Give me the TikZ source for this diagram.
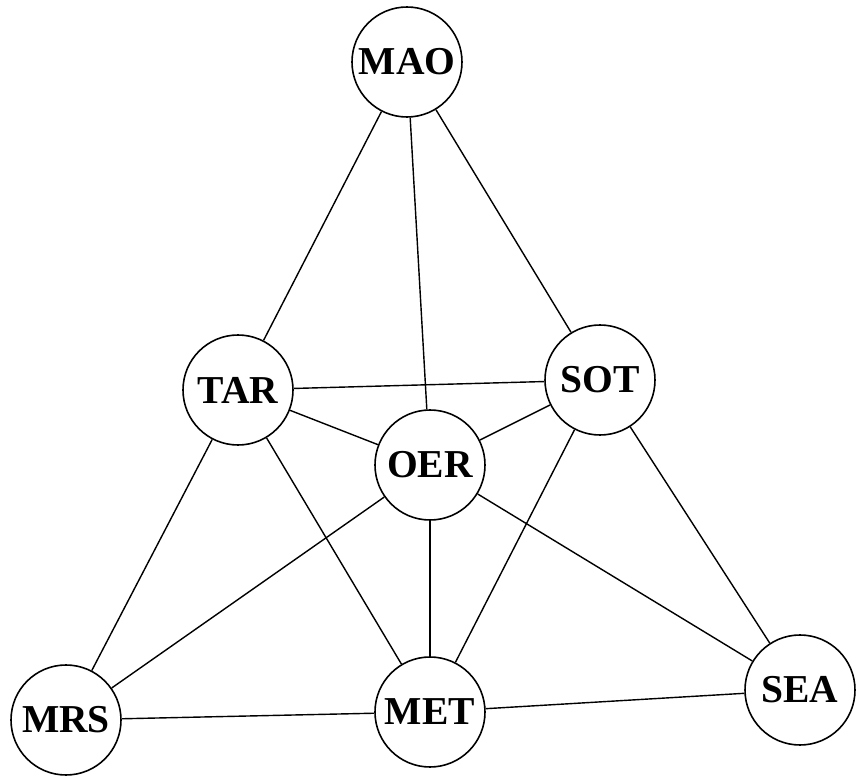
\documentclass[tikz,border=0pt]{standalone}
\usepackage{fontspec}
\setmainfont{Liberation Serif}
\begin{document}
\begin{tikzpicture}[
    station/.style={circle, draw, line width=0.9pt, minimum size=2.2cm, inner sep=0pt,
        font=\fontsize{22.5}{26}\selectfont\bfseries},
    link/.style={line width=0.8pt}]

\useasboundingbox (0, 0) rectangle (17.14, 15.52);

\node[station] (mao) at (8.14, 14.28) {MAO};
\node[station] (tar) at (4.76, 7.72) {TAR};
\node[station] (sot) at (12.0, 7.92) {SOT};
\node[station] (oer) at (8.6, 6.22) {OER};
\node[station] (mrs) at (1.32, 1.12) {MRS};
\node[station] (met) at (8.6, 1.28) {MET};
\node[station] (sea) at (16.0, 1.72) {SEA};

\draw[link] (mao) -- (tar);
\draw[link] (mao) -- (oer);
\draw[link] (mao) -- (sot);

\draw[link] (tar) -- (sot);
\draw[link] (tar) -- (oer);
\draw[link] (tar) -- (mrs);
\draw[link] (tar) -- (met);

\draw[link] (sot) -- (oer);
\draw[link] (sot) -- (met);
\draw[link] (sot) -- (sea);

\draw[link] (oer) -- (mrs);
\draw[link] (oer) -- (met);
\draw[link] (oer) -- (sea);

\draw[link] (mrs) -- (met);
\draw[link] (met) -- (sea);

\end{tikzpicture}
\end{document}
